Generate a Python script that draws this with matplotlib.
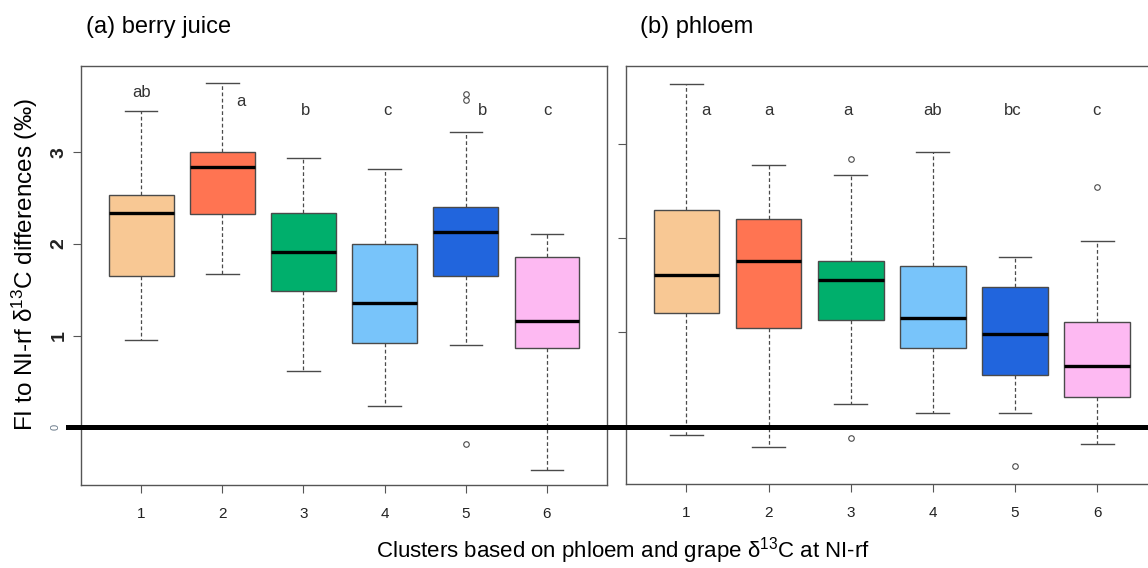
import matplotlib
matplotlib.use('Agg')
import matplotlib.pyplot as plt
from matplotlib.lines import Line2D

plt.rcParams['font.family'] = ['Liberation Sans', 'DejaVu Sans']
plt.rcParams['mathtext.default'] = 'regular'

clusters = [1, 2, 3, 4, 5, 6]
colors = ['#F8C894', '#FF7452', '#00AF6C', '#78C4FA', '#2165DD', '#FDB9F2']

# (a) berry juice: whislo, q1, med, q3, whishi
berry_whislo = [0.95, 1.67, 0.62, 0.23, 0.90, -0.46]
berry_q1 = [1.65, 2.33, 1.49, 0.92, 1.65, 0.87]
berry_med = [2.34, 2.84, 1.91, 1.36, 2.13, 1.16]
berry_q3 = [2.53, 3.00, 2.34, 2.00, 2.40, 1.86]
berry_whishi = [3.45, 3.76, 2.94, 2.82, 3.22, 2.11]
berry_fliers = [[], [], [], [], [3.64, 3.57, -0.18], []]
berry_letters = ['ab', 'a', 'b', 'c', 'b', 'c']

# (b) phloem
phloem_whislo = [-0.10, -0.23, 0.23, 0.13, 0.13, -0.20]
phloem_q1 = [1.20, 1.04, 1.12, 0.83, 0.54, 0.30]
phloem_med = [1.60, 1.75, 1.55, 1.14, 0.97, 0.63]
phloem_q3 = [2.30, 2.20, 1.75, 1.70, 1.47, 1.10]
phloem_whishi = [3.64, 2.77, 2.67, 2.91, 1.80, 1.97]
phloem_fliers = [[], [], [2.84, -0.13], [], [-0.43], [2.54]]
phloem_letters = ['a', 'a', 'a', 'ab', 'bc', 'c']


def make_stats(lo, q1, med, q3, hi, fl):
    return [dict(whislo=a, q1=b, med=c, q3=d, whishi=e, fliers=f)
            for a, b, c, d, e, f in zip(lo, q1, med, q3, hi, fl)]


def draw_panel(ax, stats):
    bp = ax.bxp(stats, positions=clusters, widths=0.8, patch_artist=True,
                boxprops=dict(edgecolor='#4a4a4a', linewidth=1.0),
                medianprops=dict(color='black', linewidth=2.4),
                whiskerprops=dict(color='#4a4a4a', linewidth=0.9, linestyle=(0, (3, 2))),
                capprops=dict(color='#4a4a4a', linewidth=1.0),
                flierprops=dict(marker='o', markersize=4, markerfacecolor='none',
                                markeredgecolor='#4a4a4a', markeredgewidth=0.8))
    for patch, c in zip(bp['boxes'], colors):
        patch.set_facecolor(c)
    ax.set_xlim(0.26, 6.74)
    ax.set_xticks(clusters)
    ax.set_xticklabels([str(c) for c in clusters], fontsize=11, color='#222222')
    ax.tick_params(axis='x', length=6, width=0.8, color='#555555', pad=10)
    ax.tick_params(axis='y', length=6, width=0.8, color='#555555')
    for s in ax.spines.values():
        s.set_color('#555555')
        s.set_linewidth(1.0)


fig = plt.figure(figsize=(11.48, 5.68), dpi=100)
ax1 = fig.add_axes([0.0706, 0.1461, 0.4582, 0.7377])
ax2 = fig.add_axes([0.5450, 0.1479, 0.4637, 0.7359])

draw_panel(ax1, make_stats(berry_whislo, berry_q1, berry_med, berry_q3, berry_whishi, berry_fliers))
draw_panel(ax2, make_stats(phloem_whislo, phloem_q1, phloem_med, phloem_q3, phloem_whishi, phloem_fliers))

ax1.set_ylim(-0.628, 3.94)
ax2.set_ylim(-0.624, 3.83)
ax1.set_yticks([1, 2, 3])
ax1.set_yticklabels(['1', '2', '3'], rotation=90, va='center', fontsize=14,
                    fontweight='bold', color='#222222')
ax2.set_yticks([1, 2, 3])
ax2.set_yticklabels([])
ax1.text(-0.048, 0, '0', transform=ax1.get_yaxis_transform(), rotation=90,
         ha='center', va='center', fontsize=8, color='#6a7a8a')

# significance letters
berry_lx = [1.0, 2.23, 3.02, 4.03, 5.21, 6.0]
berry_ly = [3.65, 3.55, 3.46, 3.46, 3.46, 3.46]
for x, y, t in zip(berry_lx, berry_ly, berry_letters):
    ax1.text(x, y, t, ha='center', va='center', fontsize=12, color='#333333')
phloem_lx = [1.24, 2.0, 2.97, 3.99, 4.97, 5.99]
for x, t in zip(phloem_lx, phloem_letters):
    ax2.text(x, 3.36, t, ha='center', va='center', fontsize=12, color='#333333')

# zero reference line across both panels
y0 = fig.transFigure.inverted().transform(ax1.transData.transform((1, 0)))[1]
fig.add_artist(Line2D([68 / 1148, 1.0], [y0, y0], color='black', linewidth=3.6))

fig.text(86 / 1148, 1 - 27 / 568, '(a) berry juice', fontsize=17, va='center', ha='left')
fig.text(640 / 1148, 1 - 27 / 568, '(b) phloem', fontsize=17, va='center', ha='left')
fig.text(25 / 1148, 1 - 265 / 568, 'FI to NI-rf δ$^{13}$C differences (‰)', rotation=90,
         fontsize=17.5, ha='center', va='center')
fig.text(623 / 1148, 1 - 551 / 568, 'Clusters based on phloem and grape δ$^{13}$C at NI-rf',
         fontsize=16, ha='center', va='center')

fig.savefig('out.png', dpi=100)
